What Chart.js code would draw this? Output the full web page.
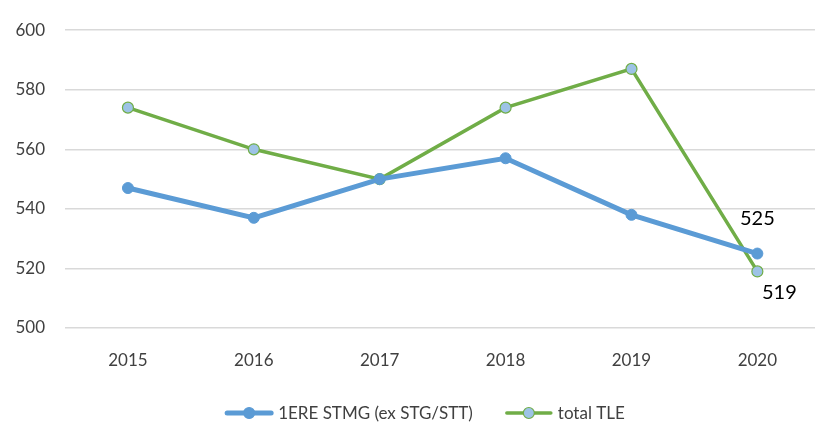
<!DOCTYPE html>
<html>
<head>
<meta charset="utf-8">
<script src="https://cdn.jsdelivr.net/npm/chart.js@4/dist/chart.umd.min.js"></script>
<style>
  html, body { margin: 0; padding: 0; background: #fff; overflow: hidden; }
  #wrap { width: 815px; height: 423px; overflow: hidden; }
</style>
</head>
<body>
<div id="wrap"><canvas id="chart" width="827" height="423"></canvas></div>
<script>
const years = ['2015', '2016', '2017', '2018', '2019', '2020'];
const stmg = [547, 537, 550, 557, 538, 525];
const tle = [574, 560, 550, 574, 587, 519];
const seriesNames = ['1ERE STMG (ex STG/STT)', 'total TLE'];
const yTicks = [500, 520, 540, 560, 580, 600];

const FONT = 'Lato, "Open Sans", sans-serif';
const BLUE = '#5b9bd5';
const GREEN = '#70ad47';
const LIGHT = '#9dc3e6';
const TXT = '#404040';

// end-of-series value labels
const endLabels = {
  id: 'endLabels',
  afterDatasetsDraw(chart) {
    const ctx = chart.ctx;
    ctx.save();
    ctx.font = '20px ' + FONT;
    ctx.fillStyle = '#000';
    ctx.textAlign = 'center';
    ctx.textBaseline = 'middle';
    const p0 = chart.getDatasetMeta(0).data[stmg.length - 1];
    ctx.fillText(String(stmg[stmg.length - 1]), p0.x, p0.y - 35);
    const p1 = chart.getDatasetMeta(1).data[tle.length - 1];
    ctx.fillText(String(tle[tle.length - 1]), p1.x + 22, p1.y + 21);
    ctx.restore();
  }
};

// Excel-style legend: line with marker, then the name
const lineLegend = {
  id: 'lineLegend',
  afterDraw(chart) {
    const ctx = chart.ctx;
    ctx.save();
    ctx.font = '17px ' + FONT;
    const items = [
      { text: seriesNames[0], color: BLUE, lw: 5, fill: BLUE, border: BLUE },
      { text: seriesNames[1], color: GREEN, lw: 3.5, fill: LIGHT, border: GREEN },
    ];
    const sw = 48, gapTxt = 5, gapItem = 32;
    let total = 0;
    items.forEach((it, i) => {
      it.w = ctx.measureText(it.text).width;
      total += sw + gapTxt + it.w + (i ? 0 : gapItem);
    });
    let x = 425 - total / 2;
    const y = 413;
    items.forEach(it => {
      ctx.strokeStyle = it.color; ctx.lineWidth = it.lw; ctx.lineCap = 'round';
      ctx.beginPath(); ctx.moveTo(x + 2, y); ctx.lineTo(x + sw - 2, y); ctx.stroke();
      ctx.beginPath(); ctx.arc(x + sw / 2, y, 5.5, 0, Math.PI * 2);
      ctx.fillStyle = it.fill; ctx.fill();
      ctx.lineWidth = 1.2; ctx.strokeStyle = it.border; ctx.stroke();
      ctx.fillStyle = TXT; ctx.textBaseline = 'middle'; ctx.textAlign = 'left';
      ctx.fillText(it.text, x + sw + gapTxt, y + 1);
      x += sw + gapTxt + it.w + gapItem;
    });
    ctx.restore();
  }
};

new Chart(document.getElementById('chart'), {
  type: 'line',
  data: {
    labels: years,
    datasets: [
      {
        label: seriesNames[0],
        data: stmg,
        borderColor: BLUE,
        backgroundColor: BLUE,
        borderWidth: 5,
        pointRadius: 5.5,
        pointBorderWidth: 1,
        pointBorderColor: BLUE,
        pointBackgroundColor: BLUE,
        tension: 0,
      },
      {
        label: seriesNames[1],
        data: tle,
        borderColor: GREEN,
        backgroundColor: LIGHT,
        borderWidth: 3.5,
        pointRadius: 5.5,
        pointBorderWidth: 1.2,
        pointBorderColor: GREEN,
        pointBackgroundColor: LIGHT,
        tension: 0,
      },
    ],
  },
  options: {
    responsive: false,
    animation: false,
    layout: { padding: { top: 21, right: 0, bottom: 50, left: 0 } },
    plugins: {
      tooltip: { enabled: false },
      legend: { display: false },
    },
    scales: {
      x: {
        offset: true,
        grid: { display: false },
        border: { display: false },
        afterFit: s => { s.height = 45; },
        ticks: { color: TXT, font: { family: FONT, size: 17 }, padding: 14 },
      },
      y: {
        min: 500,
        max: 600,
        afterBuildTicks: s => { s.ticks = yTicks.map(v => ({ value: v })); },
        afterFit: s => { s.width = 65; },
        grid: { color: '#d9d9d9', lineWidth: 1.5, drawTicks: false },
        border: { display: false },
        ticks: { color: TXT, font: { family: FONT, size: 17 }, padding: 20 },
      },
    },
  },
  plugins: [endLabels, lineLegend],
});
</script>
</body>
</html>
